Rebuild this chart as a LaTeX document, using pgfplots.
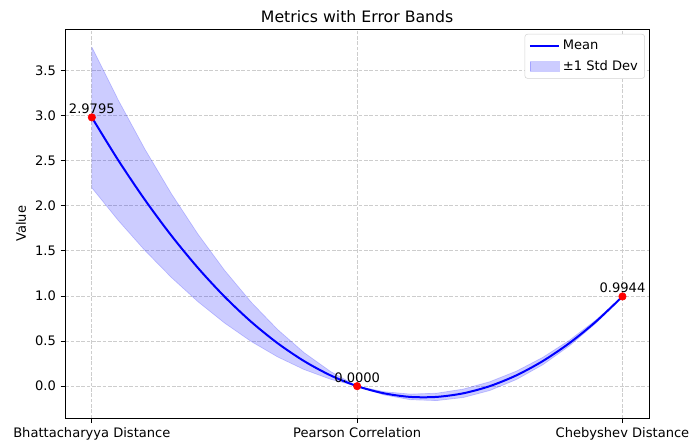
\documentclass[border=0pt]{standalone}
\usepackage{fontspec}
\setmainfont{DejaVu Sans}
\usepackage{pgfplots}
\pgfplotsset{compat=1.18}
\definecolor{gridc}{RGB}{205,205,205}
\pgfplotsset{
  lineleg/.style={legend image code/.code={\draw[##1] (0pt,0pt) -- (22pt,0pt);}},
  bandleg/.style={legend image code/.code={\draw[##1, sharp corners] (0pt,-3.6pt) rectangle (22pt,3.6pt);}},
}
\begin{document}
\fontsize{9.8}{12}\selectfont
\begin{tikzpicture}
\begin{axis}[name=ax, scale only axis, width=437.8pt, height=291.75pt,
  xmin=-0.1, xmax=2.1, ymin=-0.356, ymax=3.956,
  xtick={0,1,2},
  xticklabels={Bhattacharyya Distance, Pearson Correlation, Chebyshev Distance},
  ytick={0,0.5,1,1.5,2,2.5,3,3.5},
  /pgf/number format/fixed, /pgf/number format/fixed zerofill,
  /pgf/number format/precision=1, /pgf/number format/assume math mode=true,
  tick align=outside, tick pos=left, major tick length=3.6pt,
  tick style={black, line width=0.6pt},
  axis line style={line width=0.6pt},
  grid=major,
  major grid style={gridc, dash pattern=on 2.8pt off 1.2pt, line width=0.6pt},
  title={Metrics with Error Bands},
  every axis title/.style={font=\fontsize{11.8}{14}\selectfont, at={(0.5,1)}, anchor=base, yshift=5pt},
  ylabel={Value},
  every axis y label/.style={at={(rel axis cs:0,0.5)}, xshift=-33.2pt, rotate=90, anchor=center},
  legend style={at={(0.993,0.988)}, anchor=north east, draw=gray!35, rounded corners=2pt,
    fill=white, font=\fontsize{9.8}{12}\selectfont, row sep=2.6pt, inner xsep=3pt, inner ysep=2.5pt},
  legend cell align=left,
]
% band (mean +/- 1 std), upper edge then lower edge
\addplot[forget plot, fill=blue, fill opacity=0.2, draw=blue, draw opacity=0.2, line width=0.5pt]
coordinates {
(0,3.7595) (0.1,3.1696) (0.2,2.6273) (0.3,2.1325) (0.4,1.6852) (0.5,1.2855)
(0.6,0.9333) (0.7,0.6287) (0.8,0.3716) (0.9,0.1620) (1.0,0)
(1.1,-0.0608) (1.2,-0.0878) (1.3,-0.0779) (1.4,-0.0323) (1.5,0.0493)
(1.6,0.1666) (1.7,0.3198) (1.8,0.5088) (1.9,0.7337) (2.0,0.9944)
(2.0,0.9944) (1.9,0.6985) (1.8,0.4464) (1.7,0.2378) (1.6,0.0730)
(1.5,-0.0483) (1.4,-0.1259) (1.3,-0.1599) (1.2,-0.1502) (1.1,-0.0960)
(1.0,0) (0.9,0.0762) (0.8,0.1844) (0.7,0.3245) (0.6,0.4965) (0.5,0.7005)
(0.4,0.9364) (0.3,1.2043) (0.2,1.5041) (0.1,1.8358) (0,2.1995) (0,3.7595)
};
% mean
\addplot[blue, line width=1.5pt, smooth, line join=round, lineleg] coordinates {
(0,2.9795) (0.1,2.5027) (0.2,2.0657) (0.3,1.6684) (0.4,1.3108) (0.5,0.9930)
(0.6,0.7149) (0.7,0.4766) (0.8,0.2780) (0.9,0.1191) (1.0,0)
(1.1,-0.0784) (1.2,-0.1190) (1.3,-0.1189) (1.4,-0.0791) (1.5,0.0005)
(1.6,0.1198) (1.7,0.2788) (1.8,0.4776) (1.9,0.7161) (2.0,0.9944)
};
\addlegendentry{Mean}
\addlegendimage{bandleg, fill=blue, fill opacity=0.2, draw=blue, draw opacity=0.2, line width=0.5pt}
\addlegendentry{±1 Std Dev}
% points with labels
\addplot[forget plot, only marks, mark=*, mark size=2.8pt, red,
  point meta=explicit symbolic, nodes near coords,
  every node near coord/.append style={anchor=base, inner sep=0pt, yshift=2.6pt, black,
    font=\fontsize{9.8}{12}\selectfont}]
coordinates {(0,2.9795) [2.9795] (1,0) [0.0000] (2,0.9944) [0.9944]};
\end{axis}
\pgfresetboundingbox
\path (ax.south west) ++(-48.98pt,-18.53pt) rectangle ([xshift=30pt,yshift=21.98pt]ax.north east);
\end{tikzpicture}
\end{document}
